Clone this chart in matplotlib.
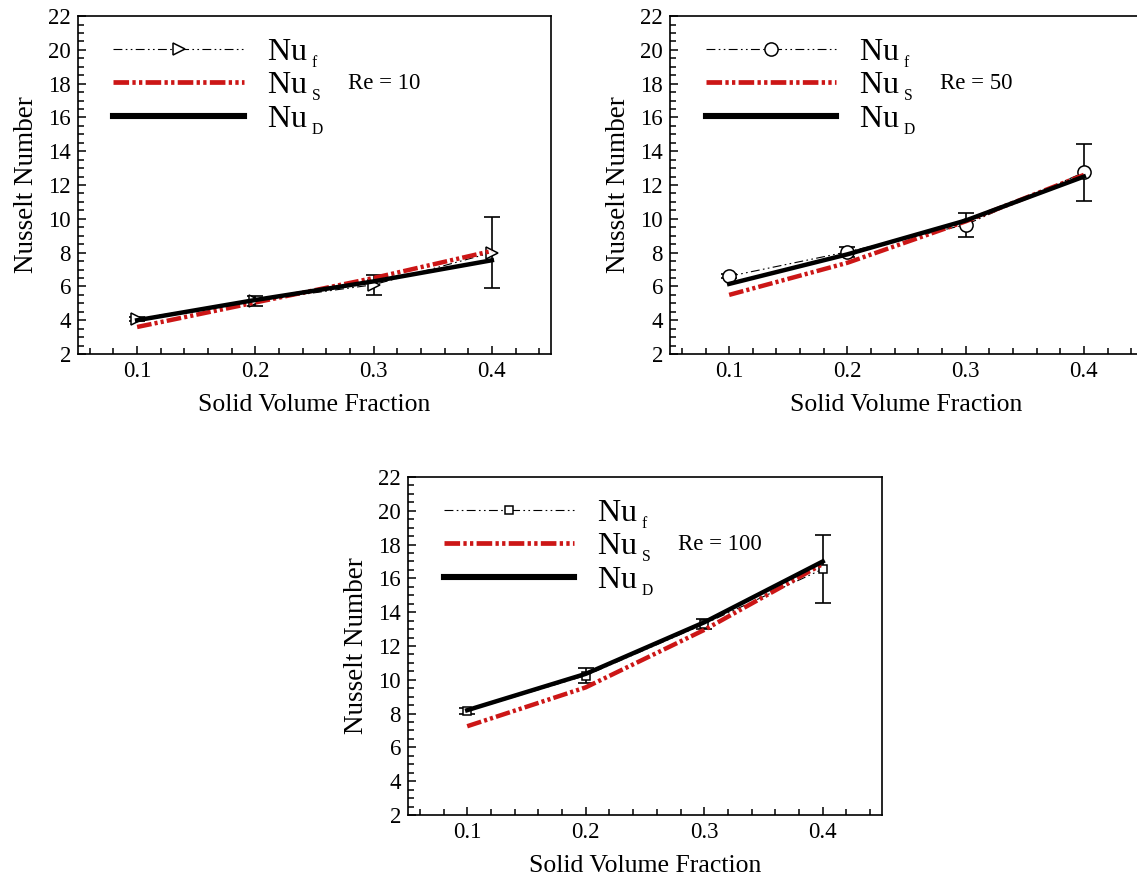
import numpy as np
import matplotlib
matplotlib.use('Agg')
import matplotlib.pyplot as plt
from matplotlib.ticker import MultipleLocator

plt.rcParams['font.family'] = ['Liberation Serif', 'DejaVu Serif']
plt.rcParams['mathtext.fontset'] = 'custom'
plt.rcParams['mathtext.rm'] = 'Liberation Serif'
plt.rcParams['mathtext.it'] = 'Liberation Serif:italic'


### data
phi = [0.1, 0.2, 0.3, 0.4]
re_labels = ['Re = 10', 'Re = 50', 'Re = 100']
markers = ['>', 'o', 's']
marker_sizes = [8, 9.5, 6]

# Re = 10
nu_f_re10 = [4.1, 5.15, 6.1, 8.0]
err_re10 = [0.12, 0.3, 0.6, 2.1]
nu_s_re10 = [3.6, 5.05, 6.5, 8.1]
nu_d_re10 = [4.0, 5.2, 6.3, 7.55]

# Re = 50
nu_f_re50 = [6.6, 8.05, 9.65, 12.75]
err_re50 = [0.12, 0.3, 0.7, 1.7]
nu_s_re50 = [5.5, 7.4, 9.85, 12.6]
nu_d_re50 = [6.15, 7.9, 9.9, 12.5]

# Re = 100
nu_f_re100 = [8.15, 10.25, 13.3, 16.55]
err_re100 = [0.2, 0.45, 0.3, 2.0]
nu_s_re100 = [7.25, 9.55, 12.95, 16.85]
nu_d_re100 = [8.2, 10.35, 13.4, 17.0]

nu_f = [nu_f_re10, nu_f_re50, nu_f_re100]
errs = [err_re10, err_re50, err_re100]
nu_s = [nu_s_re10, nu_s_re50, nu_s_re100]
nu_d = [nu_d_re10, nu_d_re50, nu_d_re100]

labels = [r'Nu$_{\ _{\mathrm{f}}}$', r'Nu$_{\ _{\mathrm{S}}}$', r'Nu$_{\ _{\mathrm{D}}}$']

# axes boxes in figure fraction
boxes = [
    [0.0686, 0.5986, 0.416, 0.3832],
    [0.5893, 0.5986, 0.416, 0.3832],
    [0.3588, 0.0760, 0.4169, 0.3832],
]

fig = plt.figure(figsize=(11.37, 8.82), dpi=100)

for i in range(3):
    ax = fig.add_axes(boxes[i])

    ax.errorbar(phi, nu_f[i], yerr=errs[i], fmt='none', ecolor='black',
                elinewidth=1.2, capsize=6, capthick=1.2, zorder=2)
    lf, = ax.plot(phi, nu_f[i], color='black', lw=0.8,
                  ls=(0, (8, 3, 1.5, 3, 1.5, 3)),
                  marker=markers[i], ms=marker_sizes[i], mfc='white',
                  mec='black', mew=1.1, zorder=3)
    ls_, = ax.plot(phi, nu_s[i], color='#cc1616', lw=3.2,
                   ls=(0, (3.3, 0.7, 0.7, 0.7, 0.7, 0.7)), zorder=4)
    ld, = ax.plot(phi, nu_d[i], color='black', lw=3.2, zorder=5)

    leg = ax.legend([lf, ls_, ld], labels, loc='upper left',
                    bbox_to_anchor=(0.075, 0.937), frameon=False,
                    fontsize=23, handlelength=4.1, handletextpad=0.7,
                    labelspacing=0.02, borderpad=0, borderaxespad=0,
                    numpoints=1)
    for h in leg.legend_handles:
        if h.get_color() == 'black' and h.get_linewidth() > 2:
            h.set_linewidth(4.4)
        elif h.get_linewidth() > 2:
            h.set_linewidth(3.4)

    ax.text(0.278, 18.0, re_labels[i], fontsize=16.5, va='center', ha='left')

    ax.set_xlim(0.05, 0.45)
    ax.set_ylim(2, 22)
    ax.xaxis.set_major_locator(MultipleLocator(0.1))
    ax.xaxis.set_minor_locator(MultipleLocator(0.02))
    ax.yaxis.set_major_locator(MultipleLocator(2))
    ax.yaxis.set_minor_locator(MultipleLocator(0.5))
    ax.tick_params(which='both', direction='in', top=False, right=False,
                   width=1.1, labelsize=16.5)
    ax.tick_params(which='major', length=6, pad=5)
    ax.tick_params(which='minor', length=4)
    for s in ax.spines.values():
        s.set_linewidth(1.2)

    ax.set_xlabel('Solid Volume Fraction', fontsize=18.5, labelpad=9)
    ax.set_ylabel('Nusselt Number', fontsize=19.5, labelpad=7)

fig.savefig('out.png', dpi=100)
